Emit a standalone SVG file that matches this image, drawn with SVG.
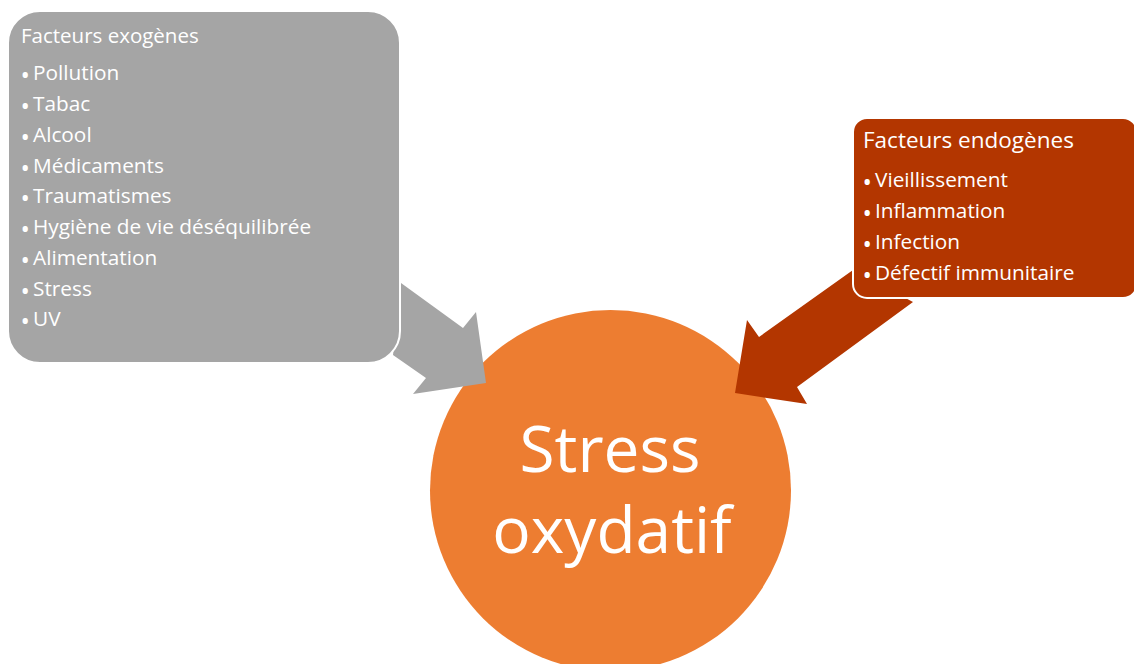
<svg xmlns="http://www.w3.org/2000/svg" width="1134" height="664" viewBox="0 0 1134 664">
<style>
text{font-family:"Open Sans","Noto Sans",sans-serif;fill:#fff}
.hdr{font-size:20.5px}
.hdr2{font-size:22.5px}
.item{font-size:20.8px}
.b{font-size:25px}
.big{font-size:64px}
.box{stroke:#fff;stroke-width:2}
</style>
<rect width="1134" height="664" fill="#fff"/>
<g id="center">
<circle cx="610.5" cy="490.5" r="180.5" fill="#ED7D31"/>
<text class="big" x="610" y="472" text-anchor="middle">Stress</text>
<text class="big" x="612" y="553" text-anchor="middle">oxydatif</text>
</g>
<g id="connectors">
<polygon points="401,283 463,328 476,312 486,383 413,394 426,378 393,355" fill="#A5A5A5"/>
<polygon points="853,270 759,337 747,320 735,393 807,404 797,387 913,302" fill="#B33600"/>
</g>
<g id="exogenes">
<rect class="box" x="8" y="11" width="392" height="352" rx="32" fill="#A5A5A5"/>
<text class="hdr" x="21" y="43">Facteurs exogènes</text>
<g class="b">
<text x="20.5" y="84">•</text>
<text x="20.5" y="115">•</text>
<text x="20.5" y="145.7">•</text>
<text x="20.5" y="176.5">•</text>
<text x="20.5" y="207.3">•</text>
<text x="20.5" y="238">•</text>
<text x="20.5" y="268.8">•</text>
<text x="20.5" y="299.6">•</text>
<text x="20.5" y="330.4">•</text>
</g>
<g class="item">
<text x="33" y="80">Pollution</text>
<text x="33" y="111">Tabac</text>
<text x="33" y="141.7">Alcool</text>
<text x="33" y="172.5">Médicaments</text>
<text x="33" y="203.3">Traumatismes</text>
<text x="33" y="234">Hygiène de vie déséquilibrée</text>
<text x="33" y="264.8">Alimentation</text>
<text x="33" y="295.6">Stress</text>
<text x="33" y="326.4">UV</text>
</g>
</g>
<g id="endogenes">
<rect class="box" x="853" y="118" width="284" height="180" rx="14" fill="#B33600"/>
<text class="hdr2" x="863" y="148">Facteurs endogènes</text>
<g class="b">
<text x="862.5" y="191">•</text>
<text x="862.5" y="222">•</text>
<text x="862.5" y="253">•</text>
<text x="862.5" y="284">•</text>
</g>
<g class="item">
<text x="875" y="187">Vieillissement</text>
<text x="875" y="218">Inflammation</text>
<text x="875" y="249">Infection</text>
<text x="875" y="280">Défectif immunitaire</text>
</g>
</g>
</svg>
